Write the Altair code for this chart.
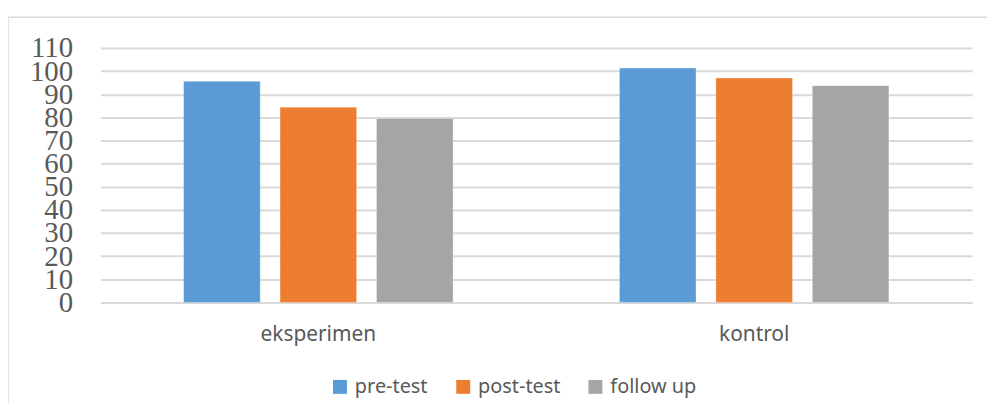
import altair as alt
import pandas as pd

groups = ["eksperimen", "kontrol"]
series = ["pre-test", "post-test", "follow up"]
pre_test = [95.6, 101.3]
post_test = [84.4, 97.0]
follow_up = [79.5, 93.7]
colors = ["#5B9BD5", "#ED7D31", "#A5A5A5"]
y_ticks = list(range(0, 111, 10))

rows = []
for s, vals in zip(series, [pre_test, post_test, follow_up]):
    for g, v in zip(groups, vals):
        rows.append({"group": g, "series": s, "value": v})
df = pd.DataFrame(rows)

W, H = 877, 256

bars = alt.Chart(df).mark_bar(stroke="#ffffff", strokeWidth=0.6, strokeOpacity=0.5).encode(
    x=alt.X("group:N", sort=groups, title=None,
            scale=alt.Scale(paddingInner=0, paddingOuter=0),
            axis=alt.Axis(labelAngle=0, labelFont="Noto Sans", labelFontSize=21,
                          labelColor="#595959", labelPadding=21, ticks=False,
                          domain=False, grid=False)),
    xOffset=alt.XOffset("series:N", sort=series,
                        scale=alt.Scale(paddingInner=0.206, paddingOuter=0.863)),
    y=alt.Y("value:Q", title=None,
            scale=alt.Scale(domain=[0, 110], nice=False),
            axis=alt.Axis(values=y_ticks, labelFont="Liberation Serif", labelFontSize=29,
                          labelColor="#595959", labelPadding=28, ticks=False,
                          domain=False, gridColor="#d9d9d9", gridWidth=2,
                          labelBaseline="middle", labelOverlap=False)),
    color=alt.Color("series:N", sort=series,
                    scale=alt.Scale(domain=series, range=colors),
                    legend=alt.Legend(title=None, orient="none", direction="horizontal",
                                      legendX=231, legendY=331, symbolType="square",
                                      symbolSize=196, symbolStrokeWidth=0,
                                      labelFont="Noto Sans", labelFontSize=20,
                                      labelColor="#595959", columnPadding=25,
                                      labelOffset=5)),
)

border = alt.Chart(pd.DataFrame({"a": [0]})).mark_rect(
    filled=False, stroke="#d9d9d9", strokeWidth=1.5, clip=False
).encode(
    x=alt.value(-93), x2=alt.value(W + 30),
    y=alt.value(-31), y2=alt.value(H + 200),
)

chart = alt.layer(border, bars).properties(
    width=W, height=H,
    autosize=alt.AutoSizeParams(type="none"),
    padding={"left": 93, "top": 39, "right": 15, "bottom": 100},
    background="white",
).configure_view(stroke=None)

chart.save("out.html", embed_options={"renderer": "svg", "actions": False})
